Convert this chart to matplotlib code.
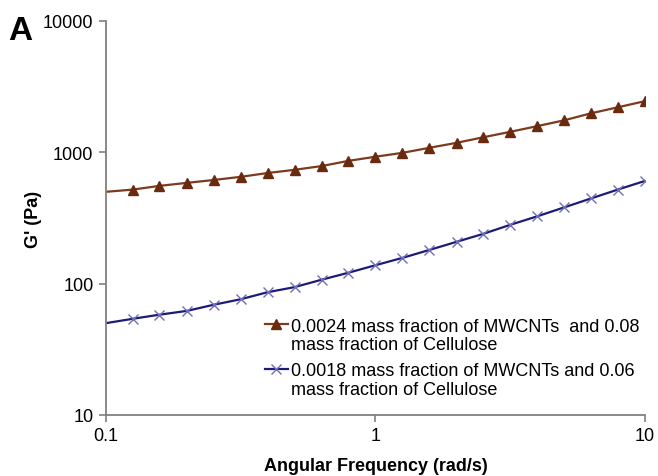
import matplotlib
matplotlib.use("Agg")
import matplotlib.pyplot as plt
from matplotlib.ticker import FixedLocator, NullLocator

plt.rcParams["font.family"] = ["Liberation Sans", "DejaVu Sans"]

# angular frequency (rad/s)
freq = [0.1, 0.126, 0.158, 0.2, 0.251, 0.316, 0.398, 0.501, 0.631, 0.794, 1.0,
        1.26, 1.58, 2.0, 2.51, 3.16, 3.98, 5.01, 6.31, 7.94, 10.0]
# G' (Pa)
g_high = [500, 520, 555, 585, 615, 650, 695, 735, 785, 860, 925,
          990, 1080, 1180, 1300, 1430, 1580, 1750, 1980, 2200, 2450]
g_low = [50, 54, 58, 62, 69, 76, 86, 94, 107, 121, 138,
         157, 180, 208, 239, 280, 325, 380, 445, 520, 605]

label_high = "0.0024 mass fraction of MWCNTs  and 0.08\nmass fraction of Cellulose"
label_low = "0.0018 mass fraction of MWCNTs and 0.06\nmass fraction of Cellulose"

fig = plt.figure(figsize=(6.58, 4.77), dpi=100)
ax = fig.add_axes([0.161, 0.128, 0.819, 0.826])

ax.plot(freq, g_high, color="#7d3a1c", lw=1.6, marker="^", ms=7,
        mfc="#6a2a10", mec="#6a2a10", markevery=list(range(1, len(freq))),
        label=label_high)
ax.plot(freq, g_low, color="#1c1c78", lw=1.6, marker="x", ms=7, mew=1.0,
        mec="#6f6fb8", markevery=list(range(1, len(freq))),
        label=label_low)

ax.set_xscale("log")
ax.set_yscale("log")
ax.set_xlim(0.1, 10)
ax.set_ylim(10, 10000)
ax.xaxis.set_major_locator(FixedLocator([0.1, 1, 10]))
ax.yaxis.set_major_locator(FixedLocator([10, 100, 1000, 10000]))
ax.xaxis.set_minor_locator(NullLocator())
ax.yaxis.set_minor_locator(NullLocator())
ax.set_xticklabels(["0.1", "1", "10"])
ax.set_yticklabels(["10", "100", "1000", "10000"])
ax.tick_params(labelsize=13, length=5, width=1.2, color="#808080", pad=4)

for s in ("top", "right"):
    ax.spines[s].set_visible(False)
for s in ("left", "bottom"):
    ax.spines[s].set_color("#808080")
    ax.spines[s].set_linewidth(1.3)

ax.set_xlabel("Angular Frequency (rad/s)", fontsize=13, fontweight="bold", labelpad=9)
ax.set_ylabel("G' (Pa)", fontsize=13, fontweight="bold", labelpad=1)

leg = ax.legend(loc="lower right", bbox_to_anchor=(1.02, 0.003), frameon=False,
                fontsize=13, handlelength=1.3, handletextpad=0.15, labelspacing=0.5)
for t in leg.get_texts():
    t.set_linespacing(1.1)
# handle next to the first text line, as in the original
for col in leg._legend_handle_box.get_children():
    for row in col.get_children():
        row.align = "top"

fig.text(0.012, 0.916, "A", fontsize=24, fontweight="bold")

fig.savefig("out.png", dpi=100)
